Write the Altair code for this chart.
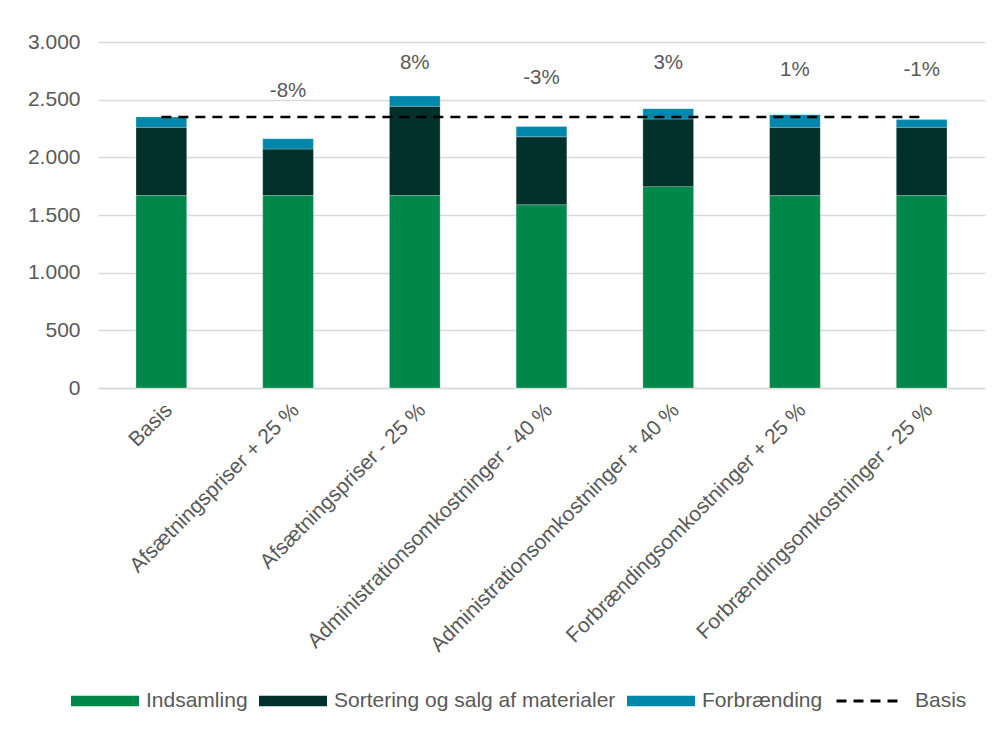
import altair as alt
import pandas as pd

categories = [
    "Basis",
    "Afsætningspriser + 25 %",
    "Afsætningspriser - 25 %",
    "Administrationsomkostninger - 40 %",
    "Administrationsomkostninger + 40 %",
    "Forbrændingsomkostninger + 25 %",
    "Forbrændingsomkostninger - 25 %",
]
indsamling = [1668, 1668, 1668, 1589, 1746, 1668, 1668]
sortering = [592, 404, 774, 589, 586, 592, 592]
forbraending = [90, 89, 90, 90, 90, 110, 67]
basis_value = 2350
pct_labels = ["", "-8%", "8%", "-3%", "3%", "1%", "-1%"]
label_y = [0, 2576, 2815, 2689, 2815, 2754, 2754]

series_names = ["Indsamling", "Sortering og salg af materialer", "Forbrænding"]
series_colors = ["#00884B", "#01312A", "#0087AB"]
series_values = [indsamling, sortering, forbraending]

FONT = "Liberation Sans"
TXT = "#595959"
FS = 21

rows = []
for s_i, (name, vals) in enumerate(zip(series_names, series_values)):
    for c, v in zip(categories, vals):
        rows.append({"kategori": c, "serie": name, "vaerdi": v, "orden": s_i})
bars_df = pd.DataFrame(rows)

line_df = pd.DataFrame({"kategori": categories, "vaerdi": [basis_value] * len(categories), "serie": ["Basis"] * len(categories)})
lab_df = pd.DataFrame({"kategori": categories, "tekst": pct_labels, "y": label_y})
lab_df = lab_df[lab_df["tekst"] != ""]

xenc = alt.X(
    "kategori:N",
    sort=categories,
    scale=alt.Scale(paddingInner=0.6, paddingOuter=0.3),
    axis=alt.Axis(
        title=None, labelAngle=-45, labelFontSize=FS, labelFont=FONT, labelColor=TXT,
        ticks=False, domainColor="#D9D9D9", domainWidth=1.5, labelPadding=11,
        labelLimit=500, grid=False,
    ),
)

bars = alt.Chart(bars_df).mark_bar(stroke="#FFFFFF", strokeWidth=0.4, strokeOpacity=0.6).encode(
    x=xenc,
    y=alt.Y(
        "vaerdi:Q",
        stack="zero",
        scale=alt.Scale(domain=[0, 3000]),
        axis=alt.Axis(
            title=None, values=[0, 500, 1000, 1500, 2000, 2500, 3000], format=",.0f",
            labelExpr="replace(datum.label, ',', '.')",
            labelFontSize=FS, labelFont=FONT, labelColor=TXT, ticks=False, domain=False,
            gridColor="#D9D9D9", gridWidth=1.5, labelPadding=18,
        ),
    ),
    color=alt.Color(
        "serie:N",
        sort=series_names,
        scale=alt.Scale(domain=series_names, range=series_colors),
        legend=alt.Legend(
            title=None, orient="none", legendX=-27, legendY=625, direction="horizontal",
            symbolType="M-1,-0.157H1V0.157H-1Z", symbolSize=4624, symbolStrokeWidth=0,
            labelFontSize=FS, labelFont=FONT, labelColor=TXT, columnPadding=11,
            labelOffset=7, symbolOpacity=1, labelLimit=500,
        ),
    ),
    order=alt.Order("orden:Q", sort="ascending"),
)

line = alt.Chart(line_df).mark_line(color="black", strokeWidth=2.6).encode(
    x=alt.X("kategori:N", sort=categories),
    y=alt.Y("vaerdi:Q"),
    strokeDash=alt.StrokeDash(
        "serie:N",
        scale=alt.Scale(domain=["Basis"], range=[[10, 7]]),
        legend=alt.Legend(
            title=None, orient="none", legendX=737, legendY=625,
            symbolType="stroke", symbolSize=4225,
            symbolStrokeColor="black", symbolStrokeWidth=3,
            labelFontSize=FS, labelFont=FONT, labelColor=TXT, labelOffset=12,
        ),
    ),
)

labels = alt.Chart(lab_df).mark_text(fontSize=20.5, font=FONT, color=TXT, baseline="middle").encode(
    x=alt.X("kategori:N", sort=categories),
    y=alt.Y("y:Q"),
    text="tekst:N",
)

chart = alt.layer(bars, line, labels).properties(
    width=887, height=346,
    padding={"left": 19, "top": 23, "right": 5, "bottom": 5},
).configure_view(stroke=None)

chart.save("out.html", embed_options={"renderer": "svg", "actions": False})
